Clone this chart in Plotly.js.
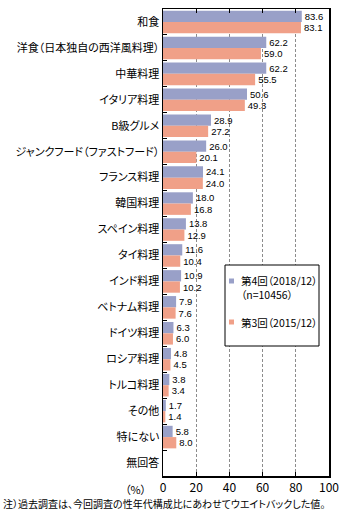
<!DOCTYPE html>
<html>
<head>
<meta charset="utf-8">
<script src="https://cdn.plot.ly/plotly-3.0.1.min.js"></script>
<style>html,body{margin:0;padding:0;background:#fff;}#chart{width:364px;height:521px;}
svg text{font-feature-settings:"palt" 1;}</style>
</head>
<body>
<div id="chart"></div>
<script>
const categories = ["和食","洋食（日本独自の西洋風料理）","中華料理","イタリア料理","B級グルメ","ジャンクフード（ファストフード）","フランス料理","韓国料理","スペイン料理","タイ料理","インド料理","ベトナム料理","ドイツ料理","ロシア料理","トルコ料理","その他","特にない","無回答"];
const round4 = [83.6,62.2,62.2,50.6,28.9,26.0,24.1,18.0,13.8,11.6,10.9,7.9,6.3,4.8,3.8,1.7,5.8,null];
const round3 = [83.1,59.0,55.5,49.3,27.2,20.1,24.0,16.8,12.9,10.4,10.2,7.6,6.0,4.5,3.4,1.4,8.0,null];
const name4Lines = ["第4回（2018/12）","（n=10456）"];
const name3 = "第3回（2015/12）";
const xTicks = [0,20,40,60,80,100];
const noteText = "注）過去調査は、今回調査の性年代構成比にあわせてウエイトバックした値。";

const blue = "#99a0c8", orange = "#f0a088";
const jp = "Noto Sans CJK JP";
const num = "Liberation Sans";
const labels4 = round4.map(v => v == null ? "" : v.toFixed(1));
const labels3 = round3.map(v => v == null ? "" : v.toFixed(1));

const traces = [
  {type:"bar", orientation:"h", y:categories, x:round4, name:name4Lines.join(""), marker:{color:blue}, text:labels4, textposition:"outside", constraintext:"none", textfont:{family:num,size:9.5,color:"#000"}, cliponaxis:false, showlegend:false, hoverinfo:"x"},
  {type:"bar", orientation:"h", y:categories, x:round3, name:name3, marker:{color:orange}, text:labels3, textposition:"outside", constraintext:"none", textfont:{family:num,size:9.5,color:"#000"}, cliponaxis:false, showlegend:false, hoverinfo:"x"}
];

// legend box geometry (paper coordinates)
const px = v => (v - 163) / 166;
const py = v => (476 - v) / 467;
const legFont = {family:jp, size:10.5, color:"#000"};

const layout = {
  width:364, height:521,
  margin:{l:163, r:35, t:9, b:45, autoexpand:false},
  paper_bgcolor:"#fff", plot_bgcolor:"#fff",
  font:{family:jp, size:11, color:"#000"},
  barmode:"group", bargap:0.13, bargroupgap:0,
  showlegend:false,
  xaxis:{range:[0,100], tickvals:xTicks, ticktext:xTicks.map(String), showgrid:true, gridcolor:"#8c8c8c", griddash:"3px,2px", gridwidth:1,
         showline:true, linecolor:"#000", linewidth:1.5, mirror:"ticks", ticks:"inside", ticklen:4, tickcolor:"#000",
         zeroline:false, tickfont:{family:jp,size:12}, fixedrange:true, automargin:false},
  yaxis:{type:"category", autorange:"reversed", showline:true, linecolor:"#000", linewidth:1.5, mirror:true,
         ticks:"inside", tickson:"boundaries", ticklen:4, tickcolor:"#000", showgrid:false, tickfont:{family:jp,size:11}, fixedrange:true, automargin:false},
  shapes:[
    {type:"rect", xref:"paper", yref:"paper", x0:px(225), x1:px(319), y0:py(346), y1:py(265), line:{color:"#000", width:1}, fillcolor:"#fff", layer:"above"},
    {type:"rect", xref:"paper", yref:"paper", x0:px(229), x1:px(234), y0:py(283.5), y1:py(278.5), line:{width:0}, fillcolor:blue, layer:"above"},
    {type:"rect", xref:"paper", yref:"paper", x0:px(229), x1:px(234), y0:py(324.5), y1:py(319.5), line:{width:0}, fillcolor:orange, layer:"above"}
  ],
  annotations:[
    {xref:"paper", yref:"paper", x:px(239), y:py(287.5), xanchor:"left", yanchor:"middle", align:"left", text:name4Lines.join("<br>"), showarrow:false, font:legFont},
    {xref:"paper", yref:"paper", x:px(239), y:py(322), xanchor:"left", yanchor:"middle", text:name3, showarrow:false, font:legFont},
    {xref:"paper", yref:"paper", x:-0.09, y:0, xanchor:"right", yanchor:"middle", yshift:-13, text:"（%）", showarrow:false, font:{family:jp,size:11}},
    {xref:"paper", yref:"paper", x:0, y:0, xanchor:"left", yanchor:"middle", xshift:-162, yshift:-27, text:noteText, showarrow:false, font:{family:jp,size:10}}
  ]
};
Plotly.newPlot("chart", traces, layout, {displayModeBar:false, staticPlot:true});
</script>
</body>
</html>
